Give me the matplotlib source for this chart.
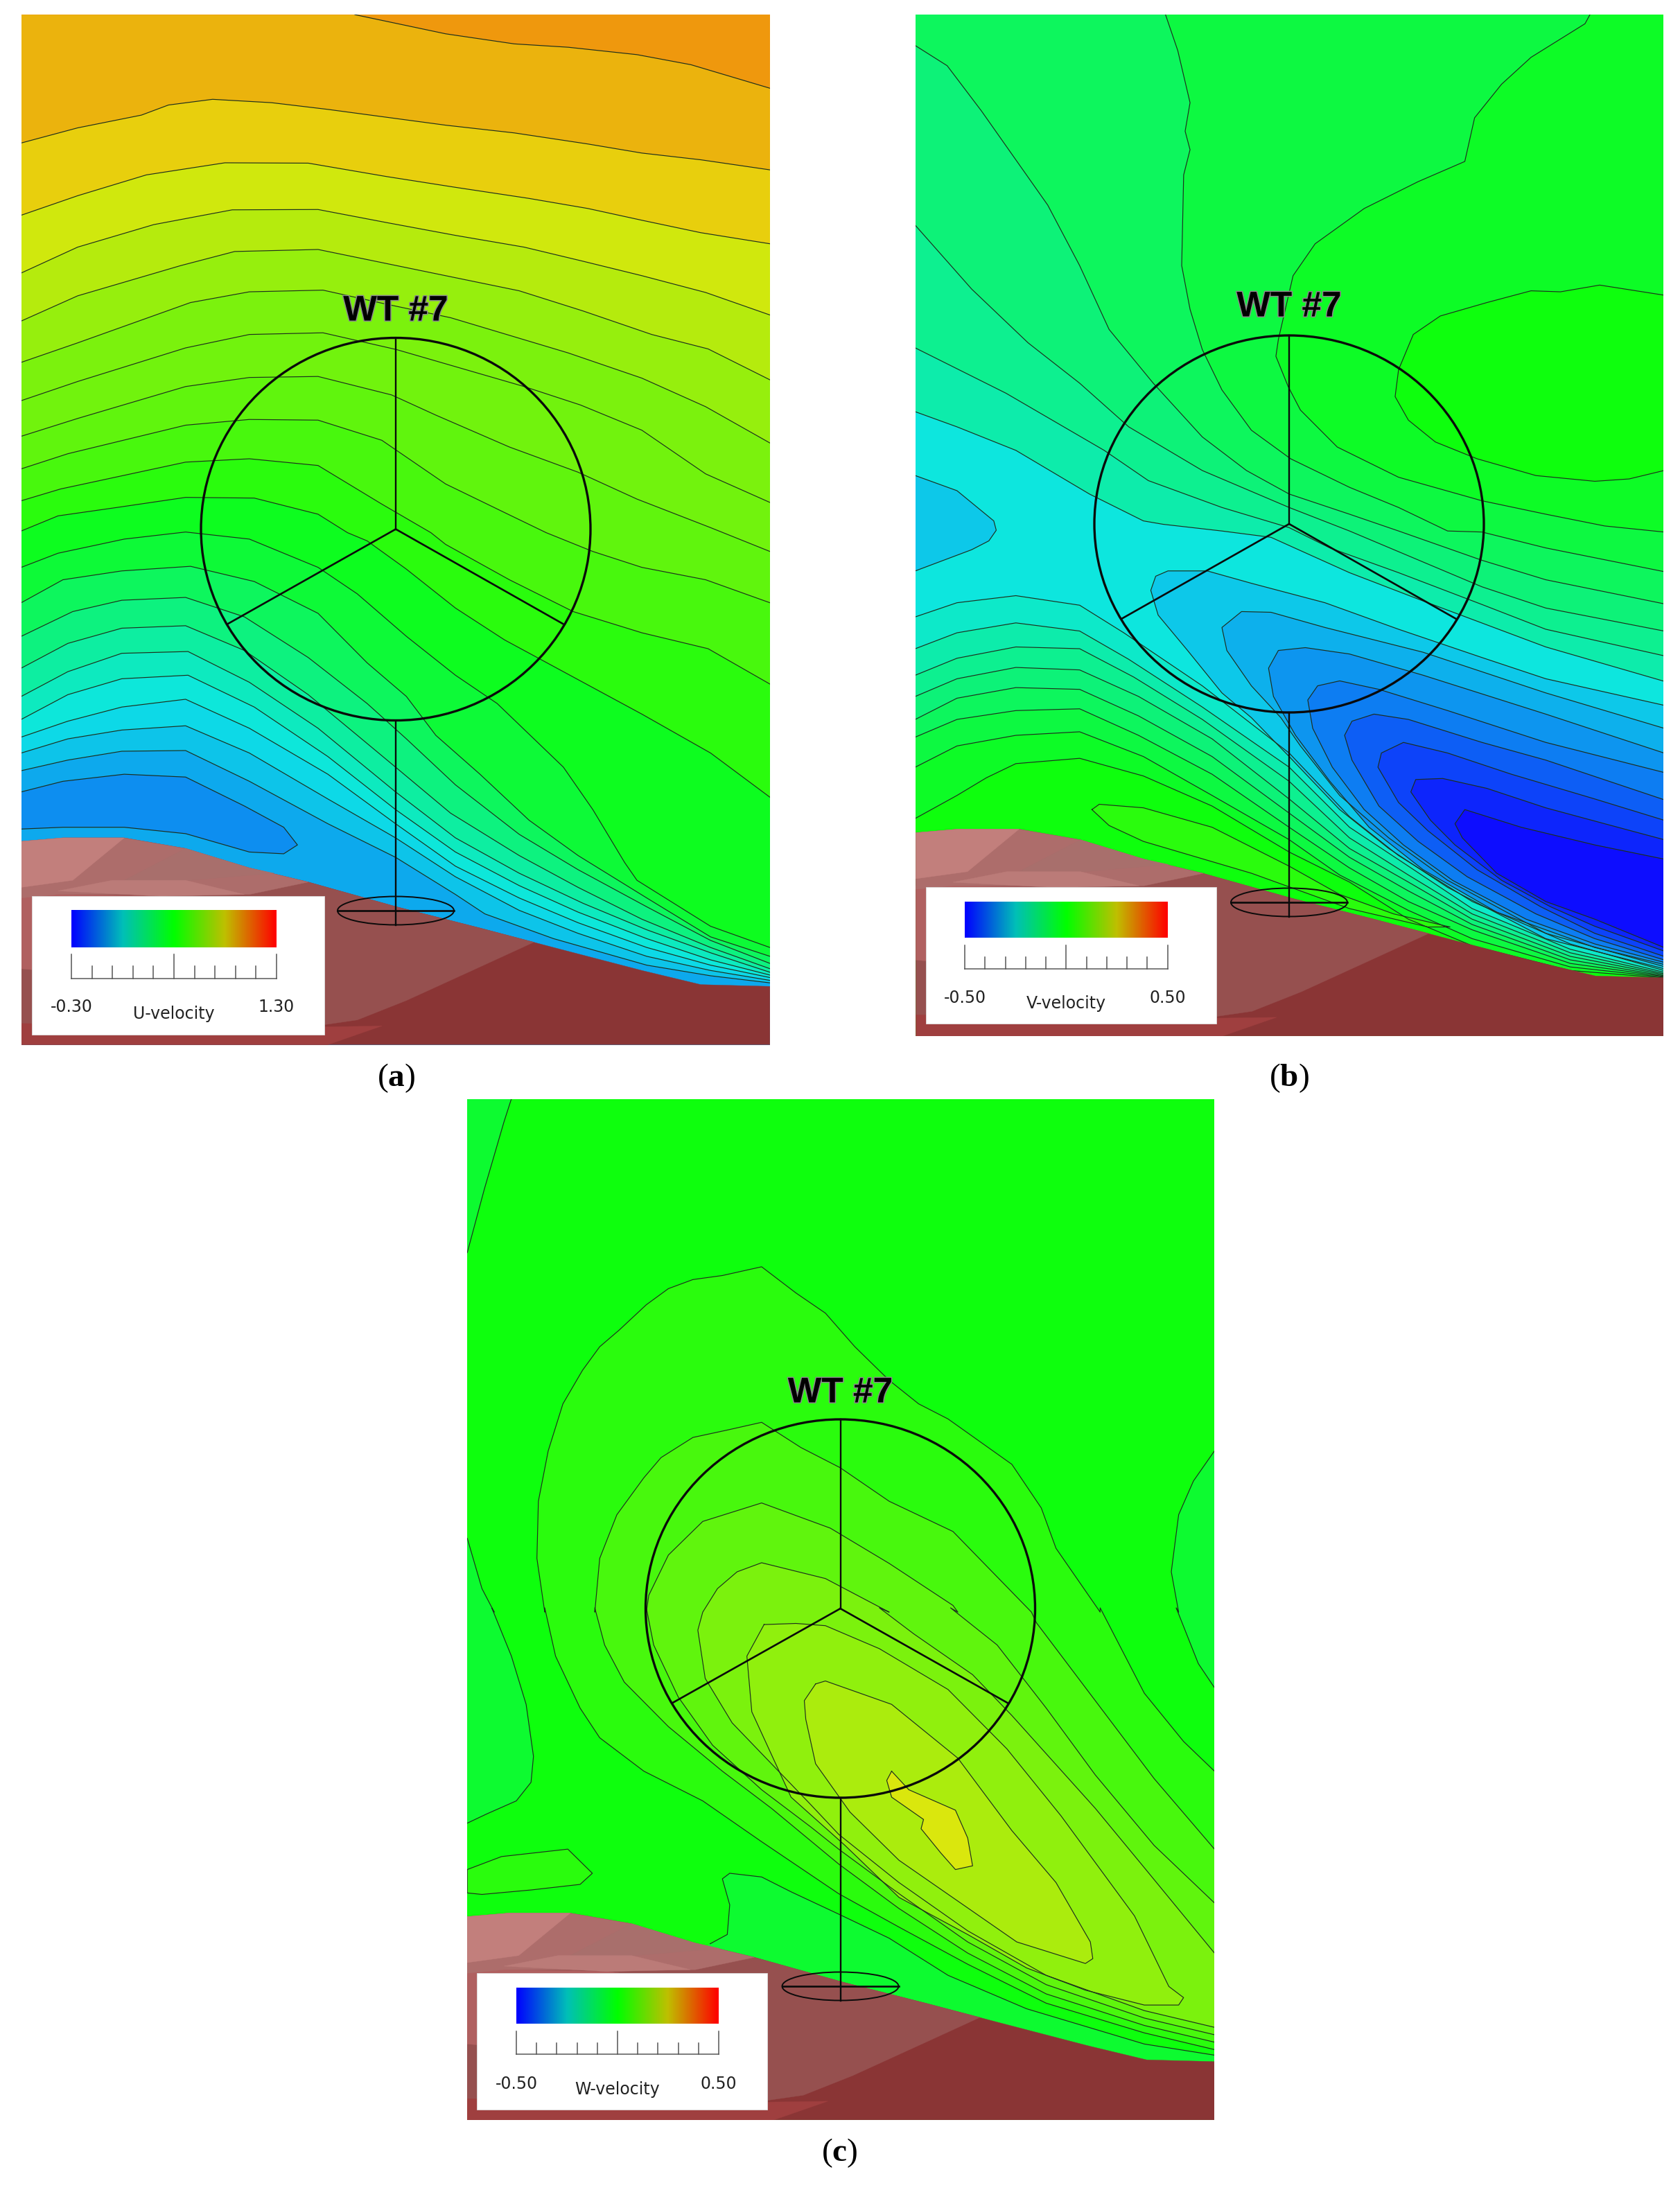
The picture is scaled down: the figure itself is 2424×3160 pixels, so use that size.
import numpy as np
import matplotlib
matplotlib.use('Agg')
import matplotlib.pyplot as plt
import matplotlib.patheffects as pe
from matplotlib.colors import LinearSegmentedColormap
from matplotlib.patches import Ellipse, Polygon, Rectangle

A_TOP = (20, 10, 2.063)
A_BOT = (20, 760, 1.96)
B_TOP = (1310, 10, 2.063)
B_BOT = (1310, 760, 1.96)
C_TOP = (660, 1570, 2.063)
C_BOT = (660, 2320, 1.867)

# U-velocity, band values from the top right corner down to the closed blue zone
u_bands = [1.04, 0.99, 0.94, 0.86, 0.81, 0.754, 0.70, 0.684, 0.652, 0.612, 0.553,
           0.468, 0.42, 0.356, 0.288, 0.228, 0.172, 0.124, 0.076, 0.04, -0.01, -0.06]
u_lines_top = [
    [(695,23),(880,80),(1020,110),(1130,120),(1270,142),(1380,172),(1541,242)],
    [(15,405),(130,360),(260,322),(315,292),(405,275),(525,285),(640,305),(880,352),(1020,375),(1170,408),(1280,435),(1400,455),(1541,485)],
    [(15,620),(130,562),(270,500),(430,464),(600,465),(760,505),(900,537),(1050,570),(1170,600),(1280,635),(1400,672),(1541,705)],
    [(15,792),(130,715),(285,648),(445,604),(620,603),(760,642),(900,680),(1040,715),(1160,757),(1280,800),(1410,850),(1541,917)],
    [(15,935),(130,860),(340,770),(450,728),(620,722),(780,770),(1030,845),(1160,905),(1300,975),(1415,1018),(1541,1110)],
    [(15,1058),(130,1000),(360,880),(480,848),(630,843),(760,885),(890,925),(1130,1030),(1280,1105),(1410,1190),(1541,1298)],
    [(15,1172),(130,1115),(350,1015),(480,975),(630,970),(780,1020),(1040,1130),(1155,1185),(1280,1260),(1410,1390),(1541,1475)],
    [(15,1278),(130,1225),(350,1130),(480,1103),(620,1100),(770,1155),(860,1215),(1010,1310),(1150,1385),(1270,1465),(1420,1550)],
    [(15,1375),(110,1330),(350,1245),(480,1228),(620,1230),(750,1290),(880,1420),(1000,1505),(1085,1565)],
    [(15,1470),(95,1435),(350,1355),(480,1345),(620,1365),(750,1480),(850,1565)],
    [(15,1560),(90,1515),(210,1490),(350,1460),(490,1462),(620,1510),(680,1565)],
]
u_lines_bot = [
    [], [], [], [], [], [], [],
    [(1541,70)],
    [(1180,70),(1280,115),(1410,150),(1541,215)],
    [(880,50),(1010,150),(1140,240),(1280,300),(1415,345),(1541,445)],
    [(720,40),(800,120),(900,230),(1000,320),(1080,380),(1280,530),(1420,640),(1541,765)],
    [(15,115),(90,75),(225,35),(350,15),(480,35),(620,115),(700,190),(800,310),(900,420),(985,500),(1120,680),(1180,800),(1245,950),(1270,1000),(1420,1130),(1541,1190)],
    [(15,215),(100,150),(220,125),(360,112),(490,155),(620,245),(720,385),(800,480),(860,590),(950,700),(1050,830),(1150,930),(1290,1050),(1420,1160),(1541,1215)],
    [(15,310),(120,240),(220,208),(350,200),(470,255),(600,370),(720,500),(800,600),(900,730),(1030,870),(1150,970),(1290,1075),(1420,1170),(1541,1235)],
    [(15,400),(110,330),(220,287),(350,280),(470,350),(600,475),(700,590),(778,680),(890,810),(1030,930),(1150,1020),(1280,1110),(1420,1190),(1541,1250)],
    [(15,480),(110,410),(220,358),(355,353),(480,440),(620,570),(778,750),(900,880),(1030,980),(1160,1065),(1290,1140),(1420,1205),(1541,1260)],
    [(15,545),(110,475),(220,430),(355,420),(490,510),(640,650),(778,800),(900,920),(1030,1015),(1150,1090),(1290,1165),(1420,1225),(1541,1268)],
    [(15,595),(110,550),(220,510),(350,488),(480,570),(640,700),(778,840),(900,960),(1030,1050),(1150,1120),(1290,1190),(1420,1240),(1541,1275)],
    [(15,640),(110,600),(220,575),(350,563),(480,640),(640,770),(778,880),(900,990),(1030,1085),(1150,1150),(1290,1215),(1420,1255),(1541,1283)],
    [(15,690),(110,660),(220,635),(350,633),(480,720),(640,840),(778,935),(900,1040),(960,1095),(1100,1165),(1290,1240),(1420,1270),(1541,1290)],
]
u_closed = [(15,750),(100,720),(225,700),(350,708),(470,790),(550,850),(578,900),(550,925),(480,920),(350,868),(225,850),(100,850),(15,855)]

# V-velocity, one value per level going down from the green zone
v_background = 0.0
v_bands = [-0.03, -0.06, -0.09, -0.125, -0.15, -0.18, -0.216, -0.24]
v_blob_top = [(1541,858),(1410,828),(1330,848),(1270,845),(1180,880),(1085,920),(1030,975),(1000,1080),(993,1160),(1020,1230),(1075,1295),(1160,1345),(1280,1395),(1400,1412),(1470,1405),(1541,1380)]
v_upper_top = [
    [(1390,23),(1380,50),(1270,150),(1210,230),(1155,330),(1135,460),(1040,520),(930,600),(830,705),(785,800),(755,990),(750,1040),(775,1130),(800,1200),(875,1310),(1000,1400),(1170,1470),(1300,1510),(1420,1545)],
    [(525,23),(550,130),(575,285),(565,370),(575,425),(562,500),(558,770),(575,900),(600,1020),(640,1140),(700,1260),(780,1345),(900,1430),(1000,1490),(1100,1560)],
    [(15,115),(80,175),(150,310),(285,590),(350,770),(410,960),(500,1120),(600,1280),(690,1380),(777,1450),(900,1510),(1000,1560)],
    [(15,650),(130,840),(245,1000),(350,1120),(450,1250),(600,1380),(777,1490),(900,1560)],
    [(15,1015),(200,1150),(400,1320),(490,1410),(640,1490),(777,1550)],
    [(15,1205),(100,1250),(220,1320),(370,1450),(480,1530),(520,1540),(640,1560)],
]
v_upper_bot = [
    [(1541,15)],
    [(1170,15),(1300,60),(1541,127)],
    [(1170,95),(1300,150),(1541,218)],
    [(1170,170),(1300,230),(1541,295)],
    [(860,60),(1000,130),(1170,220),(1300,290),(1541,365)],
    [(740,30),(900,130),(1050,210),(1300,340),(1541,437)],
]
v_lower = [
    [(15,825),(100,760),(160,710),(220,670),(350,655),(480,705),(620,790),(777,920),(900,1005),(1020,1110),(1150,1185),(1350,1255),(1541,1276)],
    [(15,680),(100,620),(220,590),(350,580),(480,650),(620,760),(777,885),(880,985),(1020,1085),(1150,1165),(1350,1245),(1541,1274)],
    [(15,595),(100,545),(220,520),(350,515),(470,590),(620,700),(777,850),(900,965),(1020,1060),(1150,1140),(1350,1235),(1541,1272)],
    [(15,545),(100,485),(220,455),(350,460),(470,535),(620,650),(777,810),(900,935),(1020,1030),(1150,1125),(1350,1225),(1541,1270)],
    [(15,480),(100,430),(220,398),(350,405),(470,480),(620,600),(777,770),(900,910),(1020,1005),(1150,1110),(1350,1215),(1541,1267)],
    [(15,420),(100,372),(220,340),(350,345),(460,425),(600,545),(777,720),(900,880),(1020,985),(1150,1095),(1350,1205),(1541,1264)],
    [(15,345),(100,300),(220,272),(350,295),(450,375),(600,510),(777,680),(900,850),(1020,960),(1150,1080),(1350,1195),(1541,1260)],
    [(15,255),(100,215),(220,195),(350,222),(440,300),(600,450),(777,640),(900,820),(1000,930),(1150,1060),(1350,1180),(1541,1255)],
]
v_lime = 0.033
v_lime_blob = [(375,800),(390,785),(480,795),(620,850),(777,960),(880,1040),(990,1095),(1105,1132),(1060,1132),(900,1080),(700,980),(480,890),(410,845)]
v_left_blob_top = [(15,1395),(100,1440),(175,1530)]
v_left_blob_bot = [(180,10),(165,40),(130,65),(15,125)]
v_well_values = [-0.284, -0.312, -0.34, -0.368, -0.404, -0.436, -0.469, -0.5]
v_wells = [
    [(1541,505),(1300,430),(1170,370),(1000,290),(850,215),(700,160),(610,125),(530,125),(505,140),(495,180),(510,250),(570,350),(640,470),(700,540),(777,650),(880,800),(980,910),(1100,1020),(1300,1165),(1541,1250)],
    [(1541,570),(1300,470),(1050,355),(850,285),(740,242),(680,240),(640,285),(650,350),(700,450),(760,540),(800,620),(880,760),(980,880),(1100,1000),(1300,1150),(1541,1244)],
    [(1541,640),(1300,530),(1050,420),(900,360),(810,342),(755,350),(735,400),(745,480),(790,590),(860,720),(940,850),(1050,970),(1200,1090),(1400,1190),(1541,1238)],
    [(1541,695),(1300,610),(1100,520),(960,460),(880,436),(835,450),(815,490),(825,570),(865,680),(930,800),(1010,900),(1110,1000),(1260,1110),(1400,1180),(1541,1232)],
    [(1541,772),(1300,660),(1170,610),(1020,545),(950,530),(905,550),(890,590),(905,660),(960,790),(1040,890),(1140,990),(1280,1095),(1400,1165),(1541,1225)],
    [(1541,830),(1400,770),(1230,700),(1100,640),(1010,610),(965,640),(958,680),(1000,780),(1060,860),(1160,970),(1290,1075),(1400,1150),(1541,1215)],
    [(1541,885),(1420,840),(1300,795),(1180,740),(1090,712),(1035,715),(1025,750),(1065,830),(1115,900),(1210,1000),(1310,1075),(1400,1130),(1541,1200)],
    [(1541,940),(1400,900),(1250,850),(1135,800),(1115,840),(1130,880),(1200,980),(1300,1060),(1400,1110),(1541,1190)],
]

# W-velocity
w_background = 0.0
w_low = -0.04
w_corner_top = [(110,32),(95,100),(55,300),(20,490)]
w_right_top = [(1543,1080),(1500,1170),(1470,1270),(1455,1440),(1470,1560)]
w_right_bot = [(1465,0),(1510,150),(1543,215)]
w_left_top = [(20,1340),(50,1490),(75,1560)]
w_left_bot = [(70,0),(110,130),(140,260),(155,400),(150,470),(120,520),(60,555),(20,580)]
w_under_line = [(515,905),(550,880),(555,800),(540,730),(555,715),(620,725),(680,765),(777,825),(880,890),(1000,990),(1160,1080),(1400,1175),(1543,1205)]
w_patch_value = 0.033
w_patch = [(20,705),(90,670),(225,650),(275,715),(250,745),(150,760),(50,772),(20,768)]
w_ring_values = [0.033, 0.07, 0.095, 0.125]
w_rings_right_bot = [
    [(1543,440),(1480,360),(1400,230),(1310,0)],
    [(1543,650),(1420,460),(1300,250),(1180,40)],
    [(1543,795),(1420,640),(1300,450),(1200,270),(1100,100),(1005,0)],
    [(1543,930),(1400,700),(1300,540),(1130,290),(1050,180),(930,70),(860,0)],
]
w_rings_top = [
    [(1310,1560),(1220,1370),(1190,1250),(1130,1120),(1000,985),(940,940),(880,870),(810,770),(750,670),(690,610),(620,532),(540,558),(480,570),(430,597),(385,645),(330,720),(290,770),(255,840),(215,940),(185,1080),(165,1230),(162,1400),(178,1560)],
    [(1170,1560),(1130,1500),(1010,1320),(880,1230),(780,1130),(700,1070),(620,995),(550,1018),(480,1040),(415,1100),(380,1160),(325,1270),(290,1400),(280,1560)],
    [(1020,1560),(1010,1540),(880,1415),(760,1310),(620,1235),(500,1290),(430,1390),(390,1510),(385,1560)],
    [(880,1560),(750,1460),(620,1413),(570,1440),(530,1490),(500,1560)],
]
w_rings_left_bot = [
    [(178,0),(200,130),(250,270),(290,350),(380,440),(500,520),(620,630),(777,770),(900,860),(1040,960),(1200,1065),(1400,1145),(1543,1190)],
    [(280,0),(300,100),(340,200),(430,320),(540,440),(640,540),(777,690),(900,810),(1040,930),(1200,1040),(1400,1125),(1543,1170)],
    [(385,0),(400,100),(450,240),(520,370),(620,490),(720,590),(777,650),(900,770),(1040,900),(1200,1015),(1400,1105),(1543,1150)],
    [(490,60),(505,190),(560,310),(640,420),(720,530),(777,610),(900,740),(1040,870),(1200,990),(1400,1085),(1543,1130)],
]
w_peak_values = [0.15, 0.18, 0.2375]
w_peaks = [
    [(625,45),(690,42),(750,48),(860,110),(1000,220),(1120,380),(1230,560),(1380,830),(1450,1020),(1480,1050),(1470,1070),(1400,1070),(1280,1030),(1160,970),(1040,880),(900,780),(790,640),(680,510),(600,280),(590,130)],
    [(730,205),(750,197),(885,260),(1020,405),(1130,600),(1220,740),(1290,900),(1295,945),(1280,958),(1140,900),(1020,790),(900,680),(800,550),(730,420),(710,300),(707,250)],
    [(885,440),(920,490),(1015,545),(1040,620),(1050,695),(1015,705),(985,660),(945,595),(950,570),(885,510),(875,465)],
]

# terrain is the same picture in the three panels, read in the crop of panel a
terrain_edge = [(15,890),(100,880),(225,880),(350,910),(480,965),(600,1005),(780,1075),(950,1135),(1100,1190),(1280,1255),(1400,1295),(1541,1300)]
terrain_mid = [(15,1180),(15,1000),(480,965),(600,1005),(780,1075),(950,1135),(1060,1175),(950,1245),(800,1340),(700,1395),(600,1415),(15,1410)]
terrain_low = [(15,1405),(600,1415),(750,1412),(640,1465),(15,1465)]
terrain_left = [(15,1040),(90,1040),(300,1045),(600,1100),(400,1300),(15,1250)]
terrain_upper = [(15,890),(100,880),(225,880),(350,910),(480,965),(600,1005),(480,1040),(300,1040),(90,1040),(15,1050)]
terrain_light = [(15,890),(100,880),(225,880),(120,1000),(15,1020)]
terrain_shade = [(350,910),(480,965),(530,980),(360,1000),(225,1000)]
terrain_pale = [(90,1030),(200,1000),(350,1000),(470,1040),(300,1045)]

legend_ends = [(-0.30, 1.30), (-0.50, 0.50), (-0.50, 0.50)]
legend_labels = [('-0.30', '1.30'), ('-0.50', '0.50'), ('-0.50', '0.50')]
legend_names = ['U-velocity', 'V-velocity', 'W-velocity']
caption_names = ['a', 'b', 'c']

band_cmap = LinearSegmentedColormap.from_list('bands', [(0.05,0.05,1),(0.05,0.9,0.9),(0.05,1,0.05),(0.9,0.9,0.05),(1,0.05,0.05)])
bar_cmap = LinearSegmentedColormap.from_list('bar', [(0,0,1),(0,0.75,0.72),(0,1,0),(0.75,0.75,0),(1,0,0)])

LINE = '#1d2f1d'
TOWER = '#0a0a0a'

plt.rcParams['mathtext.fontset'] = 'custom'
plt.rcParams['mathtext.rm'] = 'Liberation Serif'
plt.rcParams['mathtext.bf'] = 'Liberation Serif:bold'

fig = plt.figure(figsize=(24.24, 31.6), dpi=100)
ax = fig.add_axes([0, 0, 1, 1])
ax.set_xlim(0, 2424)
ax.set_ylim(3160, 0)
ax.axis('off')


def to_px(pts, crop):
    if len(pts) == 0:
        return np.zeros((0, 2))
    arr = np.array(pts, float)
    return np.column_stack([crop[0] + arr[:, 0] / 1.4126, crop[1] + arr[:, 1] / crop[2]])


def fill(xy, clip, color, z=1):
    p = Polygon(xy, closed=True, facecolor=color, edgecolor=color, lw=0.3, zorder=z)
    ax.add_patch(p)
    p.set_clip_path(clip)


def line(xy, clip, z=2):
    l, = ax.plot(xy[:, 0], xy[:, 1], color=LINE, lw=0.85, zorder=z, solid_joinstyle='round')
    l.set_clip_path(clip)


def panel_clip(rect):
    r = Rectangle((rect[0], rect[1]), rect[2] - rect[0], rect[3] - rect[1], transform=ax.transData, fc='none', ec='none')
    ax.add_patch(r)
    return r


def terrain(clip, dx, dy, rect):
    shift = np.array([dx, dy])
    base = terrain_edge + [(1541, 1465), (15, 1465)]
    shapes = [(base, '#8a3535'), (terrain_mid, '#96504f'), (terrain_left, '#b06060'), (terrain_low, '#9f3f3f'),
              (terrain_upper, '#ad6d6b'), (terrain_light, '#c27f7c'), (terrain_shade, '#a86f6c'), (terrain_pale, '#bb7b78')]
    for pts, col in shapes:
        fill(to_px(pts, A_BOT) + shift, clip, col, z=3)


def turbine(cx, cy, ry, tip_y, base_y, label_y):
    ax.add_patch(Ellipse((cx, cy), 562, 2 * ry, fc='none', ec=TOWER, lw=2.4, zorder=5))
    ax.plot([cx, cx], [cy - ry, cy], color=TOWER, lw=1.7, zorder=5)
    ax.plot([cx, cx - 242], [cy, tip_y], color=TOWER, lw=1.9, zorder=5)
    ax.plot([cx, cx + 241], [cy, tip_y], color=TOWER, lw=1.9, zorder=5)
    ax.plot([cx, cx], [cy + ry, base_y + 21], color=TOWER, lw=1.7, zorder=5)
    ax.plot([cx - 84, cx + 84], [base_y, base_y], color=TOWER, lw=1.9, zorder=5)
    ax.add_patch(Ellipse((cx, base_y), 168, 41, fc='none', ec=TOWER, lw=1.4, zorder=5))
    ax.text(cx, label_y, 'WT #7', family='Liberation Sans', weight='bold', fontsize=37, ha='center', va='center', color='black', zorder=6,
            path_effects=[pe.withStroke(linewidth=2.2, foreground='#8a8a8a')])


def legend(k, box, bar, base_y, major_y, minor_y, label_y, name_y):
    ax.add_patch(Rectangle((box[0], box[1]), box[2] - box[0], box[3] - box[1], fc='white', ec='#dddddd', lw=0.6, zorder=7))
    vmin, vmax = legend_ends[k]
    ax.imshow(np.linspace(vmin, vmax, 256).reshape(1, -1), cmap=bar_cmap, vmin=vmin, vmax=vmax, aspect='auto',
              extent=(bar[0], bar[2], bar[3], bar[1]), zorder=8)
    x = np.linspace(bar[0], bar[2], 11)
    ax.plot([bar[0], bar[2]], [base_y, base_y], color='#666666', lw=1.2, zorder=8)
    for i, xi in enumerate(x):
        top = major_y if i in (0, 5, 10) else minor_y
        ax.plot([xi, xi], [top, base_y], color='#555555', lw=1.1, zorder=8)
    ax.text(bar[0], label_y, legend_labels[k][0], fontsize=17, ha='center', va='center', color='#222222', zorder=8)
    ax.text(bar[2], label_y, legend_labels[k][1], fontsize=17, ha='center', va='center', color='#222222', zorder=8)
    ax.text((bar[0] + bar[2]) / 2, name_y, legend_names[k], fontsize=17, ha='center', va='center', color='#222222', zorder=8)


def level_color(value, vmin, vmax):
    return band_cmap((value - vmin) / (vmax - vmin))


# panel a
rect = (30.6, 21, 1111, 1507.5)
clip = panel_clip(rect)
ulines = [np.vstack([to_px(t, A_TOP), to_px(b, A_BOT)]) for t, b in zip(u_lines_top, u_lines_bot)]
ulines += [to_px(b, A_BOT) for b in u_lines_bot[len(u_lines_top):]]
fill([(rect[0], rect[1]), (rect[2], rect[1]), (rect[2], rect[3]), (rect[0], rect[3])], clip, level_color(u_bands[-2], -0.3, 1.3))
for i in range(len(ulines) - 1, -1, -1):
    xy = np.vstack([ulines[i], [(rect[2], rect[1]), (rect[0], rect[1])]])
    fill(xy, clip, level_color(u_bands[i], -0.3, 1.3))
fill(to_px(u_closed, A_BOT), clip, level_color(u_bands[-1], -0.3, 1.3))
for xy in ulines:
    line(xy, clip)
line(to_px(u_closed, A_BOT), clip)
terrain(clip, 0, 0, rect)
turbine(571, 763.5, 276, 900, 1314, 449)
legend(0, (46, 1293, 468, 1493), (103, 1313, 399, 1367), 1412, 1377, 1394, 1453, 1463)

# panel b
rect = (1321, 21, 2400, 1495)
clip = panel_clip(rect)
corner = [(rect[0], rect[1])]
fill([(rect[0], rect[1]), (rect[2], rect[1]), (rect[2], rect[3]), (rect[0], rect[3])], clip, level_color(v_background, -0.5, 0.5))
lower = [to_px(l, B_BOT) for l in v_lower]
upper = [np.vstack([to_px(t, B_TOP), to_px(b, B_BOT)]) for t, b in zip(v_upper_top, v_upper_bot)]
top_side = np.array([(rect[0], rect[1]), (rect[2], rect[1])])
fill(np.vstack([top_side, lower[0][::-1]]), clip, level_color(v_bands[0], -0.5, 0.5))
blob = to_px(v_blob_top, B_TOP)
fill(np.vstack([blob, [(rect[2] + 5, blob[-1, 1]), (rect[2] + 5, blob[0, 1])]]), clip, level_color(v_background, -0.5, 0.5))
for i in range(len(upper)):
    head = corner if i < 2 else []
    xy = np.vstack(([head] if head else []) + [upper[i], lower[i + 1][::-1]])
    fill(xy, clip, level_color(v_bands[i + 1], -0.5, 0.5))
# last cyan level has no upper line of its own
fill(np.vstack([upper[-1], lower[-1][::-1]]), clip, level_color(v_bands[-1], -0.5, 0.5))
left_blob = np.vstack([to_px(v_left_blob_top, B_TOP), to_px(v_left_blob_bot, B_BOT)])
fill(left_blob, clip, level_color(v_well_values[0], -0.5, 0.5))
for val, w in zip(v_well_values, v_wells):
    fill(to_px(w, B_BOT), clip, level_color(val, -0.5, 0.5))
fill(to_px(v_lime_blob, B_BOT), clip, level_color(v_lime, -0.5, 0.5))
line(blob, clip)
for xy in upper + lower + [left_blob]:
    line(xy, clip)
for w in v_wells:
    line(to_px(w, B_BOT), clip)
lb = to_px(v_lime_blob, B_BOT)
line(np.vstack([lb, lb[:1]]), clip)
terrain(clip, 1291, -12.5, rect)
turbine(1860, 756, 272, 893, 1302, 443)
legend(1, (1336, 1280, 1755, 1477), (1392, 1301, 1684.5, 1353), 1398, 1364, 1381, 1440, 1448)

# panel c
rect = (674, 1585.5, 1752, 3059)
clip = panel_clip(rect)
fill([(rect[0], rect[1]), (rect[2], rect[1]), (rect[2], rect[3]), (rect[0], rect[3])], clip, level_color(w_background, -0.5, 0.5))
low_col = level_color(w_low, -0.5, 0.5)
corner_line = to_px(w_corner_top, C_TOP)
fill(np.vstack([corner_line, [(rect[0], rect[1])]]), clip, low_col)
right_line = np.vstack([to_px(w_right_top, C_TOP), to_px(w_right_bot, C_BOT)])
fill(right_line, clip, low_col)
left_line = np.vstack([to_px(w_left_top, C_TOP), to_px(w_left_bot, C_BOT)])
fill(left_line, clip, low_col)
under = to_px(w_under_line, C_BOT)
fill(np.vstack([under, [(rect[2], rect[3]), (rect[0], rect[3])]]), clip, low_col)
fill(to_px(w_patch, C_BOT), clip, level_color(w_patch_value, -0.5, 0.5))
rings = []
for val, rb, t, lb in zip(w_ring_values, w_rings_right_bot, w_rings_top, w_rings_left_bot):
    xy = np.vstack([to_px(rb, C_BOT), to_px(t, C_TOP), to_px(lb, C_BOT)])
    rings.append(xy)
    fill(xy, clip, level_color(val, -0.5, 0.5))
for val, p in zip(w_peak_values, w_peaks):
    fill(to_px(p, C_BOT), clip, level_color(val, -0.5, 0.5))
for xy in rings + [corner_line, right_line, left_line, under]:
    line(xy, clip)
patch = to_px(w_patch, C_BOT)
line(np.vstack([patch, patch[:1]]), clip)
for p in w_peaks:
    xy = to_px(p, C_BOT)
    line(np.vstack([xy, xy[:1]]), clip)
terrain(clip, 643.5, 1551.5, rect)
turbine(1212.5, 2321, 273, 2457, 2866, 2010)
legend(2, (688, 2846.5, 1107, 3044), (745, 2868, 1037, 2920), 2964, 2931, 2948, 3007, 3015)

# captions
for name, cx, cy in zip(caption_names, [572, 1860, 1211], [1556, 1556, 3107]):
    ax.text(cx, cy, r'$\mathrm{(}\mathbf{' + name + r'}\mathrm{)}$', fontsize=34, ha='center', va='center', color='black')

ax.set_xlim(0, 2424)
ax.set_ylim(3160, 0)
fig.savefig('out.png', dpi=100, facecolor='white')
